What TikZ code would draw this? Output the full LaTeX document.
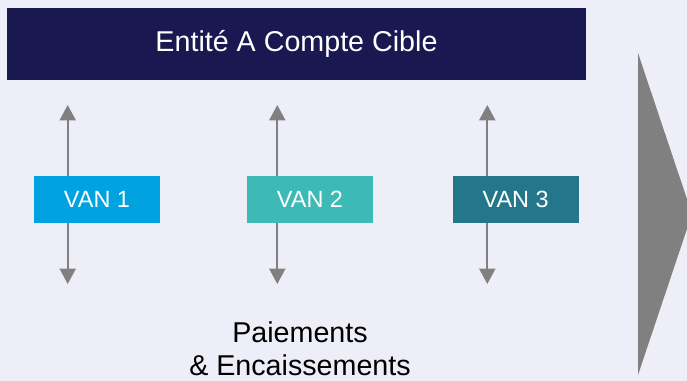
\documentclass[tikz,border=0pt]{standalone}
\usepackage{fontspec}
\setmainfont{Liberation Sans}
\usetikzlibrary{arrows.meta}
\definecolor{fond}{HTML}{EEEEF9}
\definecolor{nuit}{HTML}{1A1850}
\definecolor{gris}{HTML}{808080}
\definecolor{vanA}{HTML}{00A3E0}
\definecolor{vanB}{HTML}{3DB9B6}
\definecolor{vanC}{HTML}{24778A}
\begin{document}
\begin{tikzpicture}[x=0.75pt,y=-0.75pt]
	\tikzset{van/.style={fill=#1,text=white,minimum width=94.5pt,minimum height=35pt,inner sep=0pt,font=\fontsize{17.6}{20}\selectfont},
		fleche/.style={gris,line width=1.5pt,-{Triangle[width=12pt,length=11.5pt]}}}
	\fill[fond](0,0)rectangle(687,381);
	\clip(0,0)rectangle(687,381);
	\node[fill=nuit,text=white,minimum width=434.5pt,minimum height=54pt,inner sep=0pt,font=\fontsize{21.5}{25}\selectfont](cible)at(296.5,44){Entité A Compte Cible};
	\fill[gris](638,53)--(692,214)--(638,375)--cycle;
	\foreach \n/\x/\a/\c in{1/97/67.7/vanA,2/310/277.3/vanB,3/515.7/487.3/vanC}{
		\coordinate(haut\n)at(\a,105);
		\coordinate(bas\n)at(\a,284);
		\node[van=\c](van\n)at(\x,199.5){VAN \n};
		\draw[fleche](van\n.north-|haut\n)--(haut\n);
		\draw[fleche](van\n.south-|bas\n)--(bas\n);
	}
	\node[align=center,font=\fontsize{21.5}{25}\selectfont](flux)at(300,349){Paiements\\ \& Encaissements};
\end{tikzpicture}
\end{document}
